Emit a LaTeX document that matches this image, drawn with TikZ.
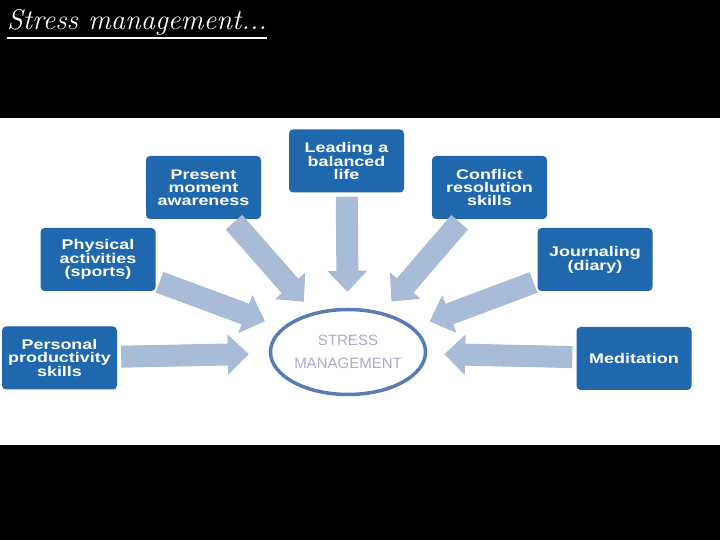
\documentclass[tikz,border=0pt]{standalone}
\usepackage{fontspec}
\newfontfamily\boxfont[FakeStretch=1.28]{Liberation Sans}
\newfontfamily\ringfont{Liberation Sans}
\usetikzlibrary{arrows.meta,shapes.geometric}
\definecolor{boxblue}{RGB}{31,104,174}
\definecolor{pushgray}{RGB}{168,187,215}
\definecolor{ringblue}{RGB}{90,124,180}
\definecolor{ringtext}{RGB}{172,170,208}
\tikzset{
  topic/.style={fill=boxblue, rounded corners=4pt, minimum width=115pt, minimum height=63pt,
    inner sep=2pt, align=center, text=white, font=\boxfont\bfseries\fontsize{14}{12.8}\selectfont},
  push/.style={pushgray, line width=22pt, shorten <=4pt, -{Triangle[length=21pt,width=39pt]}},
}
\begin{document}
\begin{tikzpicture}[x=1pt, y=1pt]
  \fill[black] (0,0) rectangle (720,540);
  \fill[white] (0,95) rectangle (720,422);
  \node[anchor=base west, inner sep=0pt, text=white, font=\itshape\fontsize{28.5}{32}\selectfont] (title) at (7,510) {Stress management...};
  \draw[white, line width=2.4pt] ([yshift=-8pt]title.base west) -- ([yshift=-8pt]title.base east);
  \node[topic] (personal) at (59.5,182) {Personal\\productivity\\skills};
  \node[topic] (physical) at (98,280.5) {Physical\\activities\\(sports)};
  \node[topic] (present) at (203.5,352.5) {Present\\moment\\awareness};
  \node[topic] (leading) at (346.5,379) {Leading a\\balanced\\life};
  \node[topic] (conflict) at (489.5,352.5) {Conflict\\resolution\\skills};
  \node[topic] (journal) at (595,280.5) {Journaling\\(diary)};
  \node[topic] (meditation) at (634,181.5) {Meditation};
  \node[ellipse, draw=ringblue, line width=3.5pt, minimum width=155pt, minimum height=85pt, inner sep=0pt,
    align=center, text=ringtext, font=\ringfont\fontsize{15}{23}\selectfont] (core) at (348,188) {STRESS\\MANAGEMENT};
  \draw[push, shorten >=20pt] (personal) -- (core);
  \draw[push, shorten >=18pt] (physical) -- (core);
  \draw[push, shorten >=14pt] (present) -- (core);
  \draw[push, shorten >=16pt] (leading) -- (core);
  \draw[push, shorten >=14pt] (conflict) -- (core);
  \draw[push, shorten >=17pt] (journal) -- (core);
  \draw[push, shorten >=17pt] (meditation) -- (core);
\end{tikzpicture}
\end{document}
